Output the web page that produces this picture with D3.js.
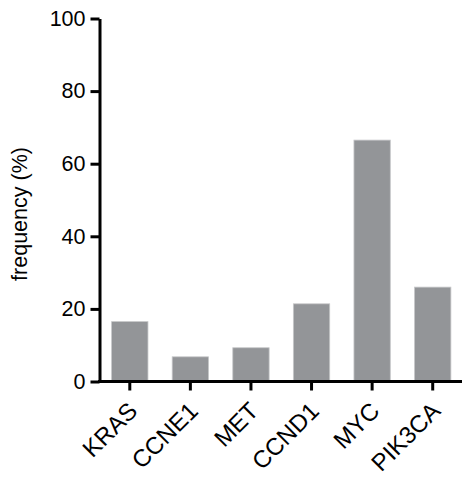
<!DOCTYPE html>
<html lang="en">
<head>
  <meta charset="UTF-8" />
  <script src="https://d3js.org/d3.v7.min.js"></script>
  <title>frequency</title>
  <style>
    body { margin: 0; background: #fff; }
    text { font-family: "Liberation Sans", Arial, sans-serif; }
  </style>
</head>
<body>
<script type="text/javascript">

var genes = ["KRAS", "CCNE1", "MET", "CCND1", "MYC", "PIK3CA"];
var frequency = [16.5, 6.8, 9.3, 21.4, 66.5, 26.0];
var yTicks = [0, 20, 40, 60, 80, 100];

var width = 462;
var height = 481;
var svg = d3.select("body").append("svg").attr("width", width).attr("height", height);

var mLeft = 99.5, mTop = 18.5, mBottom = 381.5, mRight = 463;

var x = d3.scaleBand().domain(genes).range([mLeft, mRight]).paddingInner(0.4).paddingOuter(0.2);
var y = d3.scaleLinear().domain([0, 100]).range([mBottom, mTop]);

// bars
svg.append("g").selectAll("rect")
  .data(genes)
  .enter().append("rect")
  .attr("x", function(d){ return x(d); })
  .attr("width", x.bandwidth())
  .attr("y", function(d, i){ return y(frequency[i]); })
  .attr("height", function(d, i){ return mBottom - y(frequency[i]); })
  .attr("fill", "#939598")
  .attr("stroke", "#c6c7c9")
  .attr("stroke-width", 0.8);

// y axis
var yAxis = svg.append("g")
  .attr("transform", "translate(" + mLeft + ",0)")
  .call(d3.axisLeft(y).tickValues(yTicks).tickSize(9).tickPadding(5).tickSizeOuter(0));
yAxis.select(".domain").attr("stroke-width", 3);
yAxis.selectAll(".tick line").attr("stroke-width", 3);
yAxis.selectAll("text").attr("font-size", 21.5).attr("fill", "#000");

// x axis
var xAxis = svg.append("g")
  .attr("transform", "translate(0," + mBottom + ")")
  .call(d3.axisBottom(x).tickSize(9).tickSizeOuter(0));
xAxis.select(".domain").attr("stroke-width", 3).attr("d", "M" + (mLeft - 1.5) + ",0H" + mRight);
xAxis.selectAll(".tick line").attr("stroke-width", 3);
xAxis.selectAll("text")
  .attr("font-size", 24).attr("fill", "#000")
  .attr("text-anchor", "end")
  .attr("dy", 0)
  .attr("y", 0)
  .attr("transform", "translate(9,31) rotate(-45)");

// y label
svg.append("text")
  .attr("transform", "translate(27,214) rotate(-90)")
  .attr("text-anchor", "middle")
  .attr("font-size", 21.5)
  .text("frequency (%)");

</script>
</body>
</html>
